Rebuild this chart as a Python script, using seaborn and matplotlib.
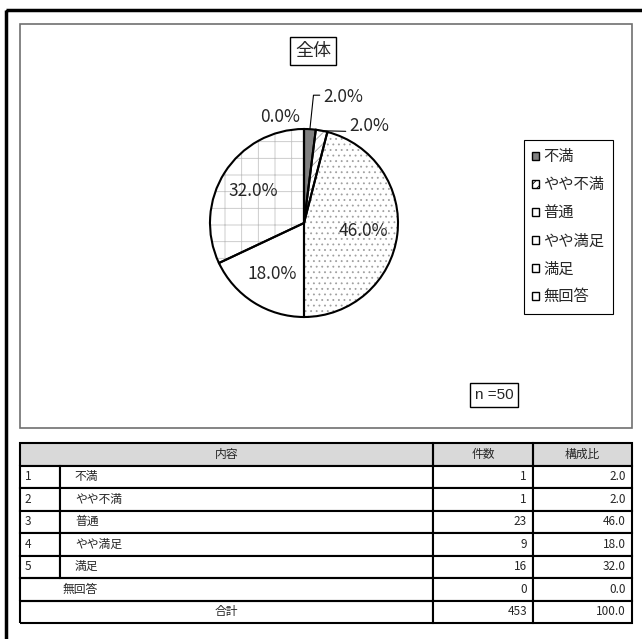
import seaborn as sns
import matplotlib.pyplot as plt
from matplotlib.patches import Rectangle, Patch
from matplotlib.table import Table
import numpy as np

# data
categories = ['不満', 'やや不満', '普通', 'やや満足', '満足', '無回答']
counts = [1, 1, 23, 9, 16, 0]
ratios = [2.0, 2.0, 46.0, 18.0, 32.0, 0.0]
row_numbers = ['1', '2', '3', '4', '5', '']
total_count = 453
total_ratio = 100.0
chart_title = '全体'
n_text = 'n =50'
col_headers = ['内容', '件数', '構成比']

sns.set_theme(style='white')
plt.rcParams['font.family'] = ['Noto Sans CJK JP', 'DejaVu Sans']
plt.rcParams['hatch.linewidth'] = 0.6

fills = ['#808080', 'white', 'white', 'white', 'white', 'white']
hatches = [None, '///', '...', None, '+', None]
hatch_colors = ['#a0a0a0', '#a0a0a0', '#a0a0a0', '#a0a0a0', '#c4c4c4', '#a0a0a0']
legend_hatches = [None, '////', None, None, None, None]

W, H = 642, 639
fig = plt.figure(figsize=(W / 100, H / 100), dpi=100)
fig.patch.set_facecolor('white')
ax = fig.add_axes([0, 0, 1, 1])

# pie, drawn in pixel coords (y axis flipped afterwards)
cx, cy, r = 304, 223, 94
wedges, _ = ax.pie(ratios, center=(cx, cy), radius=r, startangle=-90,
                   counterclock=True, colors=fills,
                   wedgeprops=dict(linewidth=0))
for w, h, hc in zip(wedges, hatches, hatch_colors):
    w.set_edgecolor(hc)
    if h:
        w.set_hatch(h)
ax.pie(ratios, center=(cx, cy), radius=r, startangle=-90, counterclock=True,
       wedgeprops=dict(fill=False, edgecolor='black', linewidth=1.5))

ax.set_xlim(0, W)
ax.set_ylim(H, 0)
ax.set_aspect('auto')
ax.axis('off')

# percentage labels
fracs = np.array(ratios) / sum(ratios)
mids = np.cumsum(fracs) - fracs / 2
for i, (p, f) in enumerate(zip(ratios, mids)):
    ang = 2 * np.pi * f
    label = f'{p:.1f}%'
    if p >= 10:
        x = cx + 0.64 * r * np.sin(ang)
        y = cy - 0.64 * r * np.cos(ang)
        ax.text(x, y, label, ha='center', va='center', fontsize=12.5)
    else:
        ex, ey = cx + r * np.sin(ang), cy - r * np.cos(ang)
        if i == 0:
            ax.annotate(label, xy=(ex, ey), xytext=(323, 97), ha='left', va='center',
                        fontsize=12.5,
                        arrowprops=dict(arrowstyle='-', color='black', lw=0.8,
                                        shrinkA=0, shrinkB=0, relpos=(0, 0.6),
                                        connectionstyle='angle,angleA=0,angleB=84'))
        elif i == 1:
            ax.annotate(label, xy=(ex - 3, ey), xytext=(349, 126), ha='left', va='center',
                        fontsize=12.5,
                        arrowprops=dict(arrowstyle='-', color='black', lw=0.8,
                                        shrinkA=0, shrinkB=0, relpos=(0, 0.2)))
        else:
            ax.text(280, 117, label, ha='center', va='center', fontsize=12.5)

# title and n boxes
ax.text(313, 51, chart_title, ha='center', va='center', fontsize=13,
        bbox=dict(boxstyle='square,pad=0.25', fc='white', ec='black', lw=1))
ax.text(494, 395, n_text, ha='center', va='center', fontsize=11,
        family=['Liberation Sans', 'DejaVu Sans'],
        bbox=dict(boxstyle='square,pad=0.3', fc='white', ec='black', lw=1))

# frames
ax.add_patch(Rectangle((20, 24), 612, 404, fill=False, ec='#707070', lw=1.2))
ax.add_patch(Rectangle((6, 10), 800, 800, fill=False, ec='black', lw=2.5))

# legend
handles = [Patch(facecolor=c, hatch=h, edgecolor='black', lw=1.0)
           for c, h in zip(fills, legend_hatches)]
leg = ax.legend(handles, categories, loc='upper left',
                bbox_to_anchor=(524 / W, 1 - 140 / H), bbox_transform=fig.transFigure,
                frameon=True, fancybox=False, edgecolor='black', framealpha=1,
                fontsize=11, handlelength=0.45, handleheight=0.45,
                handletextpad=0.25, labelspacing=0.72, borderpad=0.55,
                borderaxespad=0)
leg.get_frame().set_linewidth(0.8)

# table
tx0, tx1, ty0, ty1 = 20, 632, 443, 623
tax = fig.add_axes([tx0 / W, 1 - ty1 / H, (tx1 - tx0) / W, (ty1 - ty0) / H])
tax.set_xlim(0, 1)
tax.set_ylim(0, 1)
tax.axis('off')
col_w = np.array([40, 373, 100, 99]) / (tx1 - tx0)
n_rows = 2 + len(categories)
row_h = 1 / n_rows

# header background (merged header cells are drawn open, so fill separately)
tax.add_patch(Rectangle((0, 1 - row_h), 1, row_h, fc='#d9d9d9', ec='none', zorder=0))

rows = [['', '', col_headers[1], col_headers[2]]]
for num, cat, c, p in zip(row_numbers, categories, counts, ratios):
    rows.append([num, cat if num else '', str(c), f'{p:.1f}'])
rows.append(['', '', str(total_count), f'{total_ratio:.1f}'])

locs = ['left', 'left', 'right', 'right']
pads = [0.12, 0.04, 0.06, 0.06]
tbl = Table(tax, bbox=[0, 0, 1, 1])
for ri, row in enumerate(rows):
    for ci, txt in enumerate(row):
        loc = 'center' if ri == 0 else locs[ci]
        cell = tbl.add_cell(ri, ci, width=col_w[ci], height=row_h, text=txt, loc=loc,
                            facecolor='none' if ri == 0 else 'white',
                            edgecolor='black')
        cell.PAD = pads[ci]
        cell.set_linewidth(1.5)
        if ri == 0 or ri >= n_rows - 2:
            if ci == 0:
                cell.visible_edges = 'BLT'
                cell.set_facecolor('none')
            elif ci == 1:
                cell.visible_edges = 'BRT'
                cell.set_facecolor('none')
tbl.auto_set_font_size(False)
tbl.set_fontsize(8.5)
tbl.set_zorder(1)
tax.add_table(tbl)

merged = [(0, col_headers[0], 206.5),
          (n_rows - 2, categories[-1], 60),
          (n_rows - 1, '合計', 206.5)]
for ri, txt, xp in merged:
    tax.text(xp / (tx1 - tx0), 1 - (ri + 0.5) * row_h, txt, ha='center', va='center',
             fontsize=8.5, transform=tax.transAxes, zorder=2)

fig.savefig('out.png', dpi=100)
